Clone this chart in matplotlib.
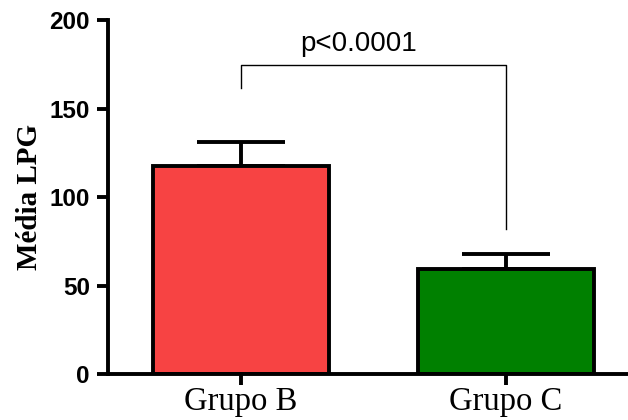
import numpy as np
import matplotlib.pyplot as plt

# Mean LPG per group with SEM
groups = ["Grupo B", "Grupo C"]
means = [117.5, 59.2]
sem = [13.4, 8.6]
colors = ["#F74343", "#008000"]

# significance bracket: height, left/right leg ends, label
bracket_y = 174.9
bracket_ends = [161.4, 81.9]
p_label = "p<0.0001"

fig = plt.figure(figsize=(6.28, 4.2), dpi=100)
ax = fig.add_axes([0.172, 0.1095, 0.828, 0.8425])

x = np.arange(len(groups))
ax.bar(x, means, width=0.664, color=colors, edgecolor="black", linewidth=2.8, zorder=2)
ax.errorbar(x, means, yerr=[np.zeros(len(sem)), sem], fmt="none", ecolor="black",
            elinewidth=2.8, capsize=32, capthick=2.8, zorder=1)

# bracket
ax.plot([x[0], x[0], x[1], x[1]], [bracket_ends[0], bracket_y, bracket_y, bracket_ends[1]],
        color="black", linewidth=1.0)
ax.text(0.443, bracket_y + 4, p_label, ha="center", va="bottom",
        fontsize=20, family="Liberation Sans")

ax.set_xlim(-0.502, 1.46)
ax.set_ylim(0, 200)
ax.set_yticks([0, 50, 100, 150, 200])
ax.set_xticks(x)
ax.set_xticklabels(groups, family="Liberation Serif", fontsize=23.5)
for lbl in ax.get_yticklabels():
    lbl.set_family("Liberation Sans")
    lbl.set_fontweight("bold")
    lbl.set_fontsize(17.5)
ax.set_ylabel("Média LPG", family="Liberation Serif", fontweight="bold", fontsize=21, labelpad=5)

for side in ["top", "right"]:
    ax.spines[side].set_visible(False)
for side in ["left", "bottom"]:
    ax.spines[side].set_linewidth(2.8)
ax.tick_params(axis="both", width=2.8, length=8, direction="out")
ax.tick_params(axis="y", pad=5)
ax.tick_params(axis="x", pad=1)

fig.savefig("out.png", dpi=100)
